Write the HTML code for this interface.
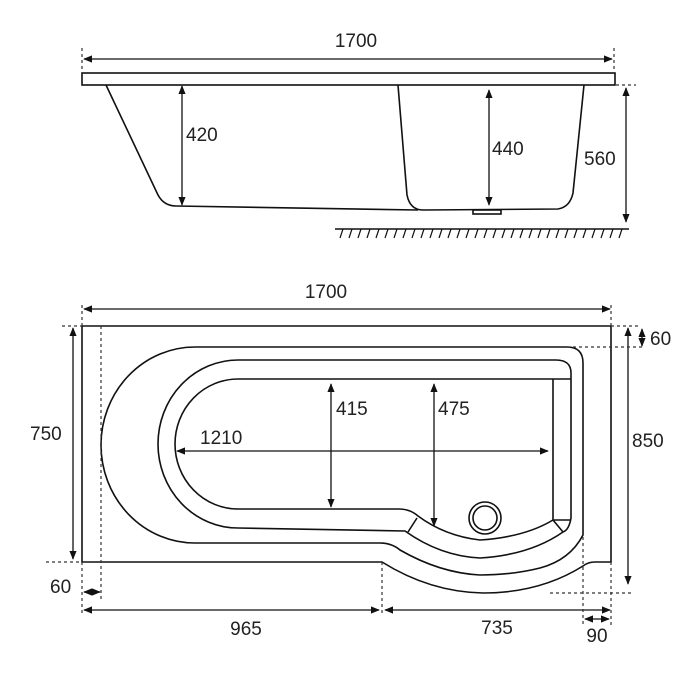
<!DOCTYPE html>
<html><head><meta charset="utf-8"><style>
html,body{margin:0;padding:0;background:#fff;}
svg{display:block;}
text{font-family:"Liberation Sans",sans-serif;font-size:19px;fill:#222;}
</style></head><body>
<svg width="700" height="700" viewBox="0 0 700 700" xmlns="http://www.w3.org/2000/svg">
<defs>
<marker id="a" viewBox="0 0 10 10" refX="9" refY="5" markerWidth="7" markerHeight="7" orient="auto-start-reverse"><path d="M0,1 L10,5 L0,9 z" fill="#111"/></marker>
</defs>
<g stroke="#111" stroke-width="1.6" fill="none">
<!-- TOP VIEW -->
<rect x="82" y="73" width="533" height="12"/>
<path d="M106,85 L158,195 Q164,206 176,206 L418,210"/>
<path d="M398,85 L407,195 Q410,210 423,210 L558,209 Q570,207 573,193 L584,85"/>
<rect x="473" y="210" width="28" height="4"/>
<line x1="335" y1="229" x2="629" y2="229"/>
</g>
<g stroke="#111" stroke-width="1.2">
<path d="M340,238 l3,-9 M349,238 l3,-9 M358,238 l3,-9 M367,238 l3,-9 M376,238 l3,-9 M385,238 l3,-9 M394,238 l3,-9 M403,238 l3,-9 M412,238 l3,-9 M421,238 l3,-9 M430,238 l3,-9 M439,238 l3,-9 M448,238 l3,-9 M457,238 l3,-9 M466,238 l3,-9 M475,238 l3,-9 M484,238 l3,-9 M493,238 l3,-9 M502,238 l3,-9 M511,238 l3,-9 M520,238 l3,-9 M529,238 l3,-9 M538,238 l3,-9 M547,238 l3,-9 M556,238 l3,-9 M565,238 l3,-9 M574,238 l3,-9 M583,238 l3,-9 M592,238 l3,-9 M601,238 l3,-9 M610,238 l3,-9 M619,238 l3,-9"/>
</g>
<g stroke="#111" stroke-width="1.3" fill="none" marker-start="url(#a)" marker-end="url(#a)">
<line x1="84" y1="59" x2="612" y2="59"/>
<line x1="182" y1="86" x2="182" y2="205"/>
<line x1="489" y1="90" x2="489" y2="205"/>
<line x1="626" y1="88" x2="626" y2="222"/>
</g>
<g stroke="#333" stroke-width="1.2" stroke-dasharray="3,3" fill="none">
<line x1="82" y1="48" x2="82" y2="72"/>
<line x1="614" y1="48" x2="614" y2="72"/>
<line x1="616" y1="85" x2="636" y2="85"/>
</g>
<text x="356" y="47" text-anchor="middle">1700</text>
<text x="186" y="141">420</text>
<text x="492" y="155">440</text>
<text x="584" y="165">560</text>

<!-- PLAN VIEW -->
<g stroke="#111" stroke-width="1.6" fill="none">
<path d="M82,326 L611,326 L611,562 L595,562 Q588,562 583,566 Q540,593 483,593 Q430,592 382,562 L82,562 Z"/>
<path d="M195,347 L567,347 Q583,347 583,363 L583,535 Q570,560 540,568 Q512,575 480,575 Q440,573 400,550 Q392,543 380,543 L195,543 A94,98 0 0 1 195,347 Z"/>
<path d="M238,360 L556,360 Q571,360 571,373 L571,518 Q569,530 563,532 Q530,555 480,558 Q440,556 405,531 L238,528 A80,84 0 0 1 238,360 Z"/>
<path d="M238,379 L571,379 M553,379 L553,520 M238,509 L399,509 Q410,509 418,516 Q445,536 480,540 Q525,537 553,520 L571,520 M553,520 L563,532 M408,532 L417,518"/>
<path d="M238,379 A63,65 0 0 0 238,509"/>
<circle cx="485" cy="518" r="16"/>
<circle cx="485" cy="518" r="12"/>
</g>
<g stroke="#111" stroke-width="1.3" fill="none" marker-start="url(#a)" marker-end="url(#a)">
<line x1="84" y1="309" x2="610" y2="309"/>
<line x1="331" y1="384" x2="331" y2="507"/>
<line x1="434" y1="384" x2="434" y2="526"/>
<line x1="177" y1="451" x2="548" y2="451"/>
<line x1="73" y1="328" x2="73" y2="559"/>
<line x1="628" y1="328" x2="628" y2="584"/>
<line x1="642" y1="329" x2="642" y2="346"/>
<line x1="84" y1="592" x2="100" y2="592"/>
<line x1="84" y1="610" x2="379" y2="610"/>
<line x1="385" y1="610" x2="610" y2="610"/>
<line x1="585" y1="619" x2="609" y2="619"/>
</g>
<g stroke="#333" stroke-width="1.2" stroke-dasharray="3,3" fill="none">
<line x1="82" y1="305" x2="82" y2="326"/>
<line x1="611" y1="305" x2="611" y2="326"/>
<line x1="101" y1="326" x2="101" y2="602"/>
<line x1="82" y1="562" x2="82" y2="615"/>
<line x1="62" y1="326" x2="82" y2="326"/>
<line x1="46" y1="562" x2="82" y2="562"/>
<line x1="567" y1="347" x2="642" y2="347"/>
<line x1="611" y1="326" x2="640" y2="326"/>
<line x1="550" y1="593" x2="634" y2="593"/>
<line x1="382" y1="562" x2="382" y2="615"/>
<line x1="583" y1="537" x2="583" y2="625"/>
<line x1="611" y1="562" x2="611" y2="625"/>
</g>
<text x="326" y="298" text-anchor="middle">1700</text>
<text x="336" y="415">415</text>
<text x="438" y="415">475</text>
<text x="200" y="444">1210</text>
<text x="30" y="440">750</text>
<text x="632" y="447">850</text>
<text x="650" y="345">60</text>
<text x="50" y="593">60</text>
<text x="246" y="635" text-anchor="middle">965</text>
<text x="497" y="634" text-anchor="middle">735</text>
<text x="597" y="642" text-anchor="middle">90</text>
</svg>
</body></html>
